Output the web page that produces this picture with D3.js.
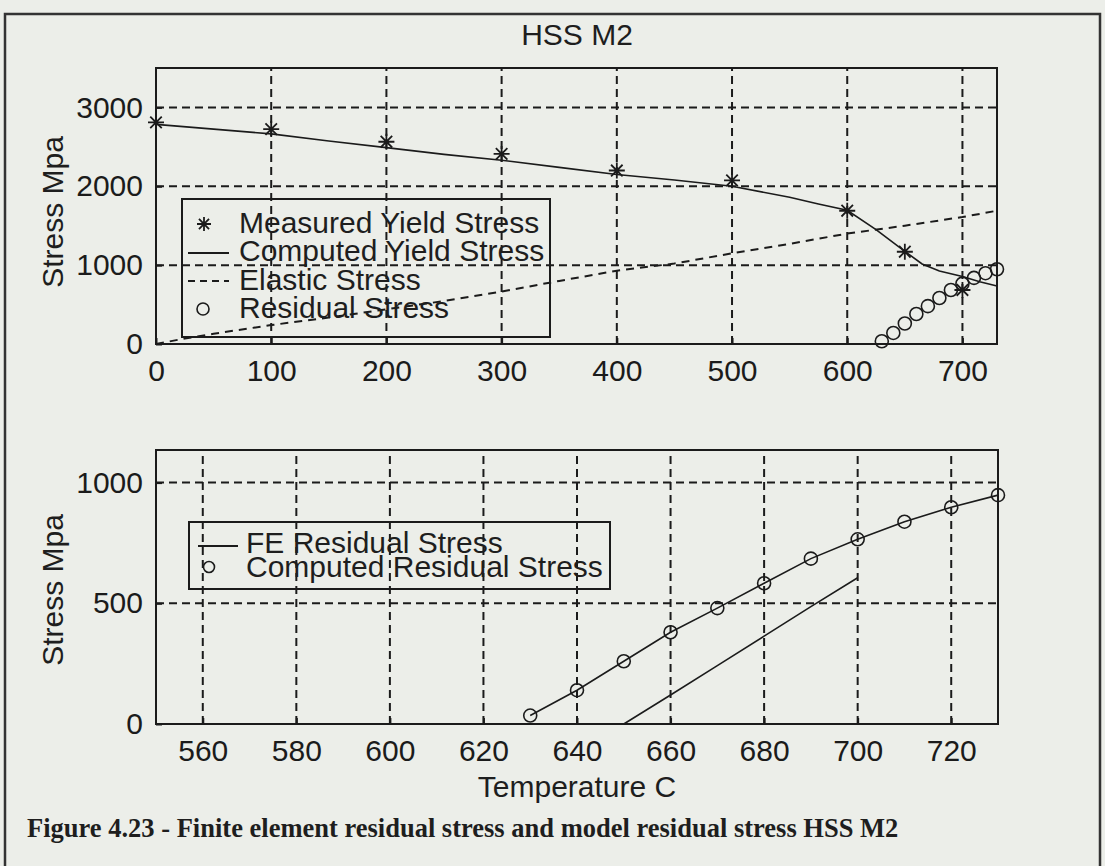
<!DOCTYPE html>
<html>
<head>
<meta charset="utf-8">
<script src="https://cdn.jsdelivr.net/npm/d3@7"></script>
<style>
  body { margin: 0; background: #eceee9; }
  svg text { font-family: "Liberation Sans", Arial, sans-serif; fill: #1e1e1e; }
</style>
</head>
<body>
<svg id="chart"></svg>
<script>
// Top panel data (temperature C vs stress MPa)
const measuredTemp = [0, 100, 200, 300, 400, 500, 600, 650, 700];
const measuredYield = [2810, 2725, 2565, 2410, 2200, 2075, 1690, 1170, 685];

const computedTemp = [0, 50, 100, 150, 200, 250, 300, 350, 400, 450, 500, 550, 575, 600, 625, 650, 665, 680, 700, 715, 730];
const computedYield = [2785, 2725, 2665, 2575, 2490, 2405, 2330, 2240, 2150, 2080, 2000, 1860, 1775, 1695, 1450, 1175, 1015, 925, 855, 790, 735];

const elasticTemp = [0, 25, 50, 100, 150, 200, 250, 300, 350, 400, 450, 500, 550, 600, 650, 700, 730];
const elasticStress = [0, 70, 130, 240, 335, 440, 545, 665, 800, 930, 1020, 1150, 1270, 1400, 1500, 1610, 1690];

// Residual stress (both panels)
const residualTemp = [630, 640, 650, 660, 670, 680, 690, 700, 710, 720, 730];
const residualStress = [35, 140, 260, 380, 480, 583, 685, 765, 838, 898, 948];

// Bottom panel FE result
const feTemp = [650, 660, 670, 680, 690, 700];
const feStress = [0, 120, 242, 364, 486, 606];

// Ticks
const topXTicks = [0, 100, 200, 300, 400, 500, 600, 700];
const topYTicks = [0, 1000, 2000, 3000];
const botXTicks = [560, 580, 600, 620, 640, 660, 680, 700, 720];
const botYTicks = [0, 500, 1000];

const topLegend = ["Measured Yield Stress", "Computed Yield Stress", "Elastic Stress", "Residual Stress"];
const botLegend = ["FE Residual Stress", "Computed Residual Stress"];

const width = 1105, height = 866;
const ink = "#1b1b1b";
const fontSize = 30;

let svg = d3.select("svg#chart")
  .attr("width", width)
  .attr("height", height);

// page frame (scanned figure border)
svg.append("path")
  .attr("d", "M5,870V14H1100V870")
  .attr("fill", "none")
  .attr("stroke", "#333")
  .attr("stroke-width", 2.5);

// scales
const xTop = d3.scaleLinear().domain([0, 730]).range([156, 997]);
const yTop = d3.scaleLinear().domain([0, 3500]).range([344, 68]);
const xBot = d3.scaleLinear().domain([550, 730]).range([156, 998]);
const yBot = d3.scaleLinear().domain([0, 1135]).range([724, 450]);

function drawPanel(xs, ys, xTicks, yTicks) {
  const g = svg.append("g");
  const [x0, x1] = xs.range();
  const [y0, y1] = ys.range();

  // dashed grid
  g.selectAll("line.gx")
    .data(xTicks)
    .join("line")
    .attr("x1", d => xs(d)).attr("x2", d => xs(d))
    .attr("y1", y0).attr("y2", y1)
    .attr("stroke", ink).attr("stroke-width", 2)
    .attr("stroke-dasharray", "8,5");
  g.selectAll("line.gy")
    .data(yTicks)
    .join("line")
    .attr("x1", x0).attr("x2", x1)
    .attr("y1", d => ys(d)).attr("y2", d => ys(d))
    .attr("stroke", ink).attr("stroke-width", 2)
    .attr("stroke-dasharray", "8,5");

  // axes box
  g.append("rect")
    .attr("x", x0).attr("y", y1)
    .attr("width", x1 - x0).attr("height", y0 - y1)
    .attr("fill", "none")
    .attr("stroke", ink).attr("stroke-width", 2);

  // tick labels
  const xa = g.append("g")
    .attr("transform", `translate(0,${y0})`)
    .call(d3.axisBottom(xs).tickValues(xTicks).tickSize(6).tickPadding(10).tickFormat(d3.format("d")));
  const ya = g.append("g")
    .attr("transform", `translate(${x0},0)`)
    .call(d3.axisLeft(ys).tickValues(yTicks).tickSize(6).tickPadding(7).tickFormat(d3.format("d")));
  [xa, ya].forEach(a => {
    a.select(".domain").remove();
    a.selectAll(".tick line").attr("stroke", ink).attr("stroke-width", 2);
    a.selectAll("text").attr("font-size", fontSize).style("fill", ink);
  });
  xa.selectAll(".tick line").attr("y2", -6);
  ya.selectAll(".tick line").attr("x2", 6);
  return g;
}

function star(s) {
  const d = s * 0.72;
  return `M${-s},0H${s}M0,${-s}V${s}M${-d},${-d}L${d},${d}M${-d},${d}L${d},${-d}`;
}

// ---------- top panel ----------
const gTop = drawPanel(xTop, yTop, topXTicks, topYTicks);

const lineTop = (tx, vy) => d3.line()
  .x((d, i) => xTop(tx[i]))
  .y(d => yTop(d))(vy);

gTop.append("path")
  .attr("d", lineTop(elasticTemp, elasticStress))
  .attr("fill", "none").attr("stroke", ink)
  .attr("stroke-width", 2).attr("stroke-dasharray", "8,6");

gTop.append("path")
  .attr("d", lineTop(computedTemp, computedYield))
  .attr("fill", "none").attr("stroke", ink).attr("stroke-width", 1.6);

gTop.selectAll("path.star")
  .data(measuredYield)
  .join("path")
  .attr("class", "star")
  .attr("transform", (d, i) => `translate(${xTop(measuredTemp[i])},${yTop(d)})`)
  .attr("d", star(8))
  .attr("stroke", ink).attr("stroke-width", 1.8).attr("fill", "none");

gTop.selectAll("circle.res")
  .data(residualStress)
  .join("circle")
  .attr("class", "res")
  .attr("cx", (d, i) => xTop(residualTemp[i]))
  .attr("cy", d => yTop(d))
  .attr("r", 6.5)
  .attr("fill", "none").attr("stroke", ink).attr("stroke-width", 1.6);

// top legend (transparent box)
gTop.append("rect")
  .attr("x", 182).attr("y", 199).attr("width", 368).attr("height", 138)
  .attr("fill", "none").attr("stroke", ink).attr("stroke-width", 2);

gTop.selectAll("text.leg")
  .data(topLegend)
  .join("text")
  .attr("class", "leg")
  .attr("x", 239)
  .attr("y", (d, i) => 233 + i * 28.4)
  .attr("font-size", fontSize)
  .text(d => d);

gTop.append("path")
  .attr("transform", "translate(204,224)")
  .attr("d", star(7))
  .attr("stroke", ink).attr("stroke-width", 1.8).attr("fill", "none");
gTop.append("line")
  .attr("x1", 188).attr("x2", 229).attr("y1", 253).attr("y2", 253)
  .attr("stroke", ink).attr("stroke-width", 1.8);
gTop.append("line")
  .attr("x1", 188).attr("x2", 229).attr("y1", 281).attr("y2", 281)
  .attr("stroke", ink).attr("stroke-width", 2).attr("stroke-dasharray", "7,5");
gTop.append("circle")
  .attr("cx", 203).attr("cy", 309).attr("r", 6)
  .attr("fill", "none").attr("stroke", ink).attr("stroke-width", 1.6);

// ---------- bottom panel ----------
const gBot = drawPanel(xBot, yBot, botXTicks, botYTicks);

const lineBot = (tx, vy) => d3.line()
  .x((d, i) => xBot(tx[i]))
  .y(d => yBot(d))(vy);

gBot.append("path")
  .attr("d", lineBot(feTemp, feStress))
  .attr("fill", "none").attr("stroke", ink).attr("stroke-width", 1.6);

gBot.append("path")
  .attr("d", lineBot(residualTemp, residualStress))
  .attr("fill", "none").attr("stroke", ink).attr("stroke-width", 1.6);

gBot.selectAll("circle.res")
  .data(residualStress)
  .join("circle")
  .attr("class", "res")
  .attr("cx", (d, i) => xBot(residualTemp[i]))
  .attr("cy", d => yBot(d))
  .attr("r", 6.5)
  .attr("fill", "none").attr("stroke", ink).attr("stroke-width", 1.6);

gBot.append("rect")
  .attr("x", 189).attr("y", 522).attr("width", 421).attr("height", 67)
  .attr("fill", "none").attr("stroke", ink).attr("stroke-width", 2);

gBot.selectAll("text.leg")
  .data(botLegend)
  .join("text")
  .attr("class", "leg")
  .attr("x", 246)
  .attr("y", (d, i) => 553 + i * 23.5)
  .attr("font-size", fontSize)
  .text(d => d);

gBot.append("line")
  .attr("x1", 198).attr("x2", 238).attr("y1", 546).attr("y2", 546)
  .attr("stroke", ink).attr("stroke-width", 1.8);
gBot.append("circle")
  .attr("cx", 209).attr("cy", 567).attr("r", 5.5)
  .attr("fill", "none").attr("stroke", ink).attr("stroke-width", 1.6);

// ---------- titles and labels ----------
svg.append("text")
  .attr("x", 577).attr("y", 45)
  .attr("text-anchor", "middle")
  .attr("font-size", fontSize)
  .text("HSS M2");

svg.append("text")
  .attr("transform", "translate(63,212) rotate(-90)")
  .attr("text-anchor", "middle")
  .attr("font-size", fontSize)
  .text("Stress Mpa");

svg.append("text")
  .attr("transform", "translate(63,590) rotate(-90)")
  .attr("text-anchor", "middle")
  .attr("font-size", fontSize)
  .text("Stress Mpa");

svg.append("text")
  .attr("x", 577).attr("y", 797)
  .attr("text-anchor", "middle")
  .attr("font-size", fontSize)
  .text("Temperature C");

svg.append("text")
  .attr("x", 27).attr("y", 837)
  .attr("font-size", 26.5)
  .style("font-family", "'Liberation Serif', 'Times New Roman', serif")
  .style("font-weight", "bold")
  .text("Figure 4.23 - Finite element residual stress and model residual stress HSS M2");
</script>
</body>
</html>
